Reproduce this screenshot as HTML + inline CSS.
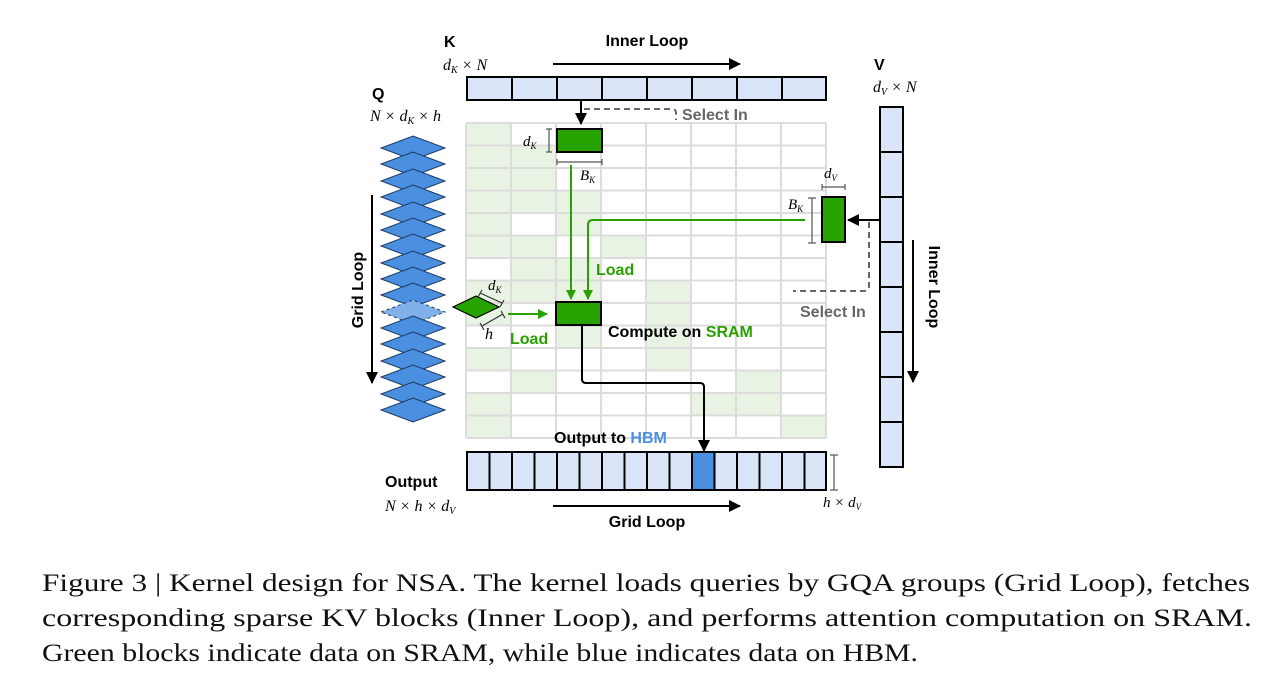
<!DOCTYPE html>
<html><head><meta charset="utf-8"><style>
html,body{margin:0;padding:0;background:#fff;}
svg{display:block;}
.b{font-family:"Liberation Sans",sans-serif;font-weight:bold;}
.m{font-family:"Liberation Serif",serif;font-style:italic;}
.c{font-family:"Liberation Serif",serif;font-size:25px;fill:#111;}
</style></head><body>
<svg width="1283" height="699" viewBox="0 0 1283 699" xmlns="http://www.w3.org/2000/svg">
<defs>
<marker id="ag" markerWidth="10" markerHeight="10" refX="9" refY="5" orient="auto" markerUnits="userSpaceOnUse" viewBox="0 0 10 10"><path d="M0,0 L10,5 L0,10 z" fill="#2aa000"/></marker>
<marker id="ab" markerWidth="12" markerHeight="12" refX="11" refY="6" orient="auto" markerUnits="userSpaceOnUse" viewBox="0 0 12 12"><path d="M0,0 L12,6 L0,12 z" fill="#000"/></marker>
</defs>

<g fill="#e8f3e3">
<rect x="466" y="123" width="45" height="22.5"/>
<rect x="466" y="145.5" width="90" height="22.5"/>
<rect x="466" y="168" width="90" height="22.5"/>
<rect x="466" y="190.5" width="135" height="22.5"/>
<rect x="466" y="213" width="45" height="22.5"/><rect x="556" y="213" width="45" height="22.5"/>
<rect x="466" y="235.5" width="90" height="22.5"/><rect x="601" y="235.5" width="45" height="22.5"/>
<rect x="511" y="258" width="90" height="22.5"/>
<rect x="466" y="280.5" width="135" height="22.5"/><rect x="646" y="280.5" width="45" height="22.5"/>
<rect x="466" y="303" width="45" height="22.5"/><rect x="646" y="303" width="45" height="22.5"/>
<rect x="556" y="325.5" width="45" height="22.5"/><rect x="646" y="325.5" width="45" height="22.5"/>
<rect x="466" y="348" width="45" height="22.5"/><rect x="646" y="348" width="45" height="22.5"/>
<rect x="511" y="370.5" width="45" height="22.5"/><rect x="736" y="370.5" width="45" height="22.5"/>
<rect x="466" y="393" width="45" height="22.5"/><rect x="691" y="393" width="90" height="22.5"/>
<rect x="466" y="415.5" width="45" height="22.5"/><rect x="781" y="415.5" width="45" height="22.5"/>
</g>
<g stroke="#dcdcdc" stroke-width="2">
<line x1="466" y1="123" x2="466" y2="438"/><line x1="511" y1="123" x2="511" y2="438"/><line x1="556" y1="123" x2="556" y2="438"/><line x1="601" y1="123" x2="601" y2="438"/><line x1="646" y1="123" x2="646" y2="438"/><line x1="691" y1="123" x2="691" y2="438"/><line x1="736" y1="123" x2="736" y2="438"/><line x1="781" y1="123" x2="781" y2="438"/><line x1="826" y1="123" x2="826" y2="438"/>
<line x1="466" y1="123" x2="826" y2="123"/><line x1="466" y1="145.5" x2="826" y2="145.5"/><line x1="466" y1="168" x2="826" y2="168"/><line x1="466" y1="190.5" x2="826" y2="190.5"/><line x1="466" y1="213" x2="826" y2="213"/><line x1="466" y1="235.5" x2="826" y2="235.5"/><line x1="466" y1="258" x2="826" y2="258"/><line x1="466" y1="280.5" x2="826" y2="280.5"/><line x1="466" y1="303" x2="826" y2="303"/><line x1="466" y1="325.5" x2="826" y2="325.5"/><line x1="466" y1="348" x2="826" y2="348"/><line x1="466" y1="370.5" x2="826" y2="370.5"/><line x1="466" y1="393" x2="826" y2="393"/><line x1="466" y1="415.5" x2="826" y2="415.5"/><line x1="466" y1="438" x2="826" y2="438"/>
</g>

<text x="444" y="47" class="b" font-size="16">K</text>
<text x="443" y="70" class="m" font-size="16">d<tspan font-size="10" dy="3">K</tspan><tspan dy="-3"> × N</tspan></text>
<text x="647" y="46" class="b" font-size="16" text-anchor="middle">Inner Loop</text>
<line x1="553" y1="64" x2="740" y2="64" stroke="#000" stroke-width="2" marker-end="url(#ab)"/>
<rect x="467" y="77" width="359" height="23" fill="#dae6f7" stroke="#000" stroke-width="2"/>
<g stroke="#000" stroke-width="2"><line x1="512" y1="77" x2="512" y2="100"/><line x1="557" y1="77" x2="557" y2="100"/><line x1="602" y1="77" x2="602" y2="100"/><line x1="647" y1="77" x2="647" y2="100"/><line x1="692" y1="77" x2="692" y2="100"/><line x1="737" y1="77" x2="737" y2="100"/><line x1="782" y1="77" x2="782" y2="100"/></g>
<line x1="581" y1="100" x2="581" y2="124" stroke="#000" stroke-width="2" marker-end="url(#ab)"/>
<path d="M584,109 H672 Q676,109 676,113 V120" fill="none" stroke="#666" stroke-width="2" stroke-dasharray="6,4"/>
<text x="682" y="120" class="b" font-size="16" fill="#666">Select In</text>

<rect x="557" y="129" width="45" height="23" fill="#26a300" stroke="#000" stroke-width="2"/>
<g stroke="#555" stroke-width="1.2"><line x1="549" y1="129" x2="549" y2="152"/><line x1="546" y1="129" x2="552" y2="129"/><line x1="546" y1="152" x2="552" y2="152"/>
<line x1="557" y1="162" x2="602" y2="162"/><line x1="557" y1="159" x2="557" y2="165"/><line x1="602" y1="159" x2="602" y2="165"/></g>
<text x="523" y="146" class="m" font-size="15">d<tspan font-size="9" dy="3">K</tspan></text>
<text x="580" y="180" class="m" font-size="15">B<tspan font-size="9" dy="3">K</tspan></text>

<line x1="571" y1="165" x2="571" y2="299" stroke="#2aa000" stroke-width="2" marker-end="url(#ag)"/>
<path d="M805,220 H593 Q588,220 588,225 V299" fill="none" stroke="#2aa000" stroke-width="2" marker-end="url(#ag)"/>
<text x="596" y="275" class="b" font-size="16" fill="#2aa000">Load</text>

<rect x="822" y="197" width="23" height="45" fill="#26a300" stroke="#000" stroke-width="2"/>
<g stroke="#555" stroke-width="1.2"><line x1="822" y1="187" x2="845" y2="187"/><line x1="822" y1="184" x2="822" y2="190"/><line x1="845" y1="184" x2="845" y2="190"/>
<line x1="812" y1="198" x2="812" y2="243"/><line x1="808" y1="198" x2="816" y2="198"/><line x1="808" y1="243" x2="816" y2="243"/></g>
<text x="824" y="178" class="m" font-size="15">d<tspan font-size="9" dy="3">V</tspan></text>
<text x="788" y="209" class="m" font-size="15">B<tspan font-size="9" dy="3">K</tspan></text>
<line x1="880" y1="220" x2="848" y2="220" stroke="#000" stroke-width="2" marker-end="url(#ab)"/>
<path d="M869,222 V286 Q869,291 864,291 H793" fill="none" stroke="#666" stroke-width="2" stroke-dasharray="6,4"/>
<text x="800" y="317" class="b" font-size="16" fill="#666">Select In</text>

<text x="874" y="70" class="b" font-size="16">V</text>
<text x="873" y="92" class="m" font-size="16">d<tspan font-size="10" dy="3">V</tspan><tspan dy="-3"> × N</tspan></text>
<rect x="880" y="107" width="23" height="360" fill="#dae6f7" stroke="#000" stroke-width="2"/>
<g stroke="#000" stroke-width="2"><line x1="880" y1="152" x2="903" y2="152"/><line x1="880" y1="197" x2="903" y2="197"/><line x1="880" y1="242" x2="903" y2="242"/><line x1="880" y1="287" x2="903" y2="287"/><line x1="880" y1="332" x2="903" y2="332"/><line x1="880" y1="377" x2="903" y2="377"/><line x1="880" y1="422" x2="903" y2="422"/></g>
<text transform="translate(929,287) rotate(90)" class="b" font-size="16" text-anchor="middle">Inner Loop</text>
<line x1="913" y1="240" x2="913" y2="382" stroke="#000" stroke-width="2" marker-end="url(#ab)"/>

<text x="372" y="99" class="b" font-size="16">Q</text>
<text x="370" y="121" class="m" font-size="16">N × d<tspan font-size="10" dy="3">K</tspan><tspan dy="-3"> × h</tspan></text>
<g stroke="#1d3a63" stroke-width="1" fill="#4a8fe0">
<polygon points="381,148 413,136 445,148 413,160"/>
<polygon points="381,164 413,152 445,164 413,176"/>
<polygon points="381,181 413,169 445,181 413,193"/>
<polygon points="381,197 413,185 445,197 413,209"/>
<polygon points="381,214 413,202 445,214 413,226"/>
<polygon points="381,230 413,218 445,230 413,242"/>
<polygon points="381,246 413,234 445,246 413,258"/>
<polygon points="381,263 413,251 445,263 413,275"/>
<polygon points="381,279 413,267 445,279 413,291"/>
<polygon points="381,295 413,283 445,295 413,307"/>
<polygon points="381,312 413,300 445,312 413,324" fill="#7fb0ea" stroke-dasharray="3,3"/>
<polygon points="381,328 413,316 445,328 413,340"/>
<polygon points="381,344 413,332 445,344 413,356"/>
<polygon points="381,361 413,349 445,361 413,373"/>
<polygon points="381,377 413,365 445,377 413,389"/>
<polygon points="381,394 413,382 445,394 413,406"/>
<polygon points="381,410 413,398 445,410 413,422"/>
</g>
<line x1="372" y1="195" x2="372" y2="383" stroke="#000" stroke-width="2" marker-end="url(#ab)"/>
<text transform="translate(363,290) rotate(-90)" class="b" font-size="16" text-anchor="middle">Grid Loop</text>

<polygon points="453,307 476,296 499,307 476,318" fill="#26a300" stroke="#000" stroke-width="1.2"/>
<g stroke="#333" stroke-width="1.2"><line x1="480" y1="293" x2="502" y2="303"/><line x1="478" y1="297" x2="482" y2="290"/><line x1="500" y1="307" x2="504" y2="300"/>
<line x1="482" y1="326" x2="503" y2="314"/><line x1="480" y1="323" x2="484" y2="330"/><line x1="501" y1="311" x2="505" y2="318"/></g>
<text x="488" y="290" class="m" font-size="15">d<tspan font-size="9" dy="3">K</tspan></text>
<text x="485" y="339" class="m" font-size="16">h</text>
<line x1="508" y1="314" x2="547" y2="314" stroke="#2aa000" stroke-width="2" marker-end="url(#ag)"/>
<text x="510" y="344" class="b" font-size="16" fill="#2aa000">Load</text>

<rect x="556" y="302" width="45" height="23" fill="#26a300" stroke="#000" stroke-width="2"/>
<text x="608" y="337" class="b" font-size="16">Compute on <tspan fill="#2aa000">SRAM</tspan></text>
<path d="M582,325 V379 Q582,383 586,383 H700 Q704,383 704,387 V451" fill="none" stroke="#000" stroke-width="2" marker-end="url(#ab)"/>
<text x="554" y="443" class="b" font-size="16">Output to <tspan fill="#4a8fe0">HBM</tspan></text>

<rect x="467" y="452" width="359" height="38" fill="#dae6f7" stroke="#000" stroke-width="2"/>
<rect x="692" y="452" width="22.5" height="38" fill="#4a8fe0" stroke="#000" stroke-width="2"/>
<g stroke="#000" stroke-width="2"><line x1="489.5" y1="452" x2="489.5" y2="490"/><line x1="512" y1="452" x2="512" y2="490"/><line x1="534.5" y1="452" x2="534.5" y2="490"/><line x1="557" y1="452" x2="557" y2="490"/><line x1="579.5" y1="452" x2="579.5" y2="490"/><line x1="602" y1="452" x2="602" y2="490"/><line x1="624.5" y1="452" x2="624.5" y2="490"/><line x1="647" y1="452" x2="647" y2="490"/><line x1="669.5" y1="452" x2="669.5" y2="490"/><line x1="737" y1="452" x2="737" y2="490"/><line x1="759.5" y1="452" x2="759.5" y2="490"/><line x1="782" y1="452" x2="782" y2="490"/><line x1="804.5" y1="452" x2="804.5" y2="490"/></g>
<g stroke="#555" stroke-width="1.2"><line x1="834" y1="455" x2="834" y2="490"/><line x1="830" y1="455" x2="838" y2="455"/><line x1="830" y1="490" x2="838" y2="490"/></g>
<text x="385" y="487" class="b" font-size="16">Output</text>
<text x="385" y="511" class="m" font-size="16">N × h × d<tspan font-size="10" dy="3">V</tspan></text>
<text x="823" y="507" class="m" font-size="15">h × d<tspan font-size="9" dy="3">V</tspan></text>
<line x1="553" y1="506" x2="740" y2="506" stroke="#000" stroke-width="2" marker-end="url(#ab)"/>
<text x="647" y="527" class="b" font-size="16" text-anchor="middle">Grid Loop</text>

<text x="42" y="591" class="c" textLength="1208" lengthAdjust="spacingAndGlyphs">Figure 3 | Kernel design for NSA. The kernel loads queries by GQA groups (Grid Loop), fetches</text>
<text x="42" y="626" class="c" textLength="1210" lengthAdjust="spacingAndGlyphs">corresponding sparse KV blocks (Inner Loop), and performs attention computation on SRAM.</text>
<text x="42" y="661" class="c" textLength="876" lengthAdjust="spacingAndGlyphs">Green blocks indicate data on SRAM, while blue indicates data on HBM.</text>
</svg>
</body></html>
